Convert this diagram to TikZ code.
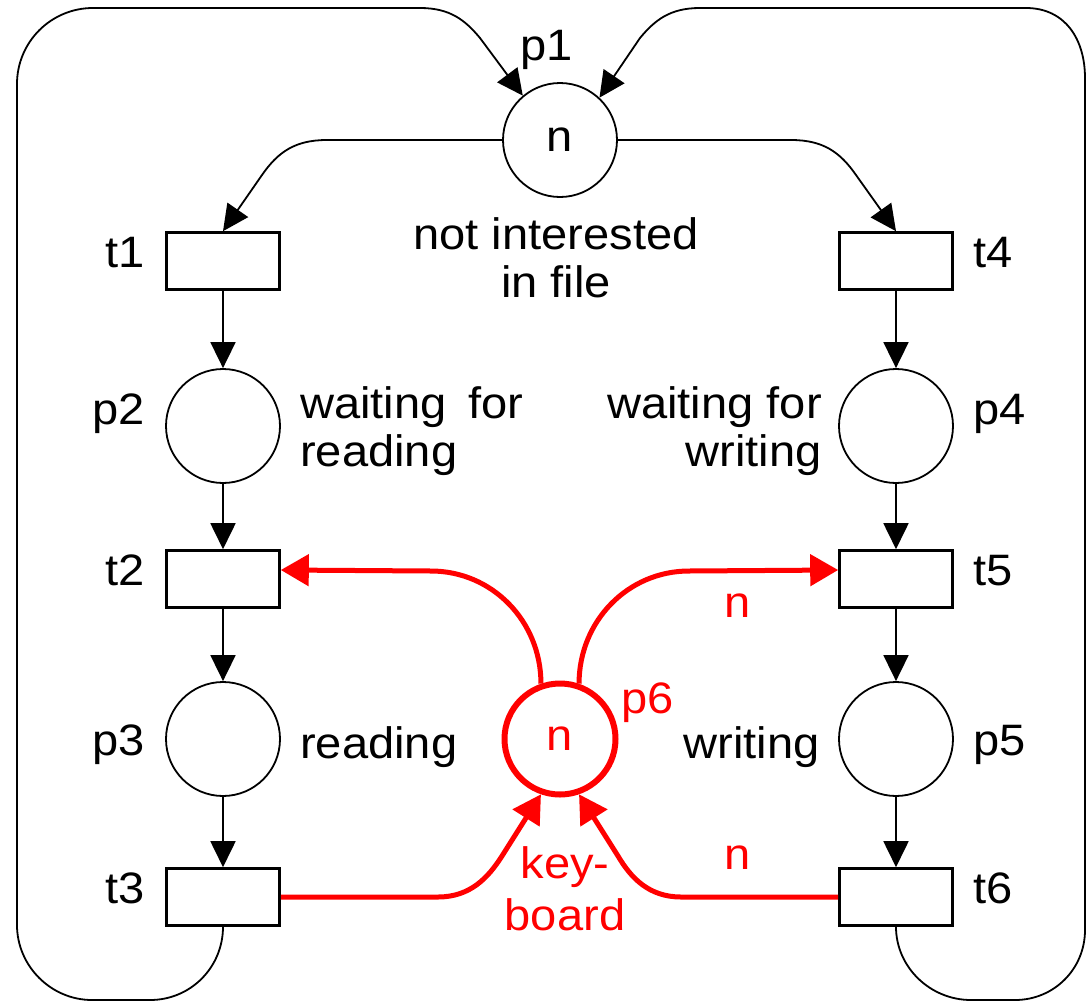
\documentclass[tikz,border=0pt]{standalone}
\usepackage{fontspec}
\setmainfont{Liberation Sans}[FakeStretch=1.07]
\usetikzlibrary{arrows.meta,calc}
\definecolor{kbred}{RGB}{255,0,0}

\begin{document}
\begin{tikzpicture}[x=1pt,y=-1pt,
  every node/.style={font=\fontsize{44}{48}\selectfont, inner sep=0pt},
  place/.style={circle,draw,line width=1.8pt,minimum size=114pt},
  kbplace/.style={circle,draw=kbred,text=kbred,line width=6pt,minimum size=111pt},
  trans/.style={rectangle,draw,line width=2.6pt,minimum width=113pt,minimum height=57pt},
  flow/.style={line width=1.8pt,-{Triangle[length=26pt,width=25pt]}},
  redflow/.style={draw=kbred,line width=5pt,-{Triangle[length=28pt,width=31pt]}},
  redtext/.style={text=kbred}
]
\useasboundingbox (0,0) rectangle (1088,1002);

% places
\node[place]   (p1) at (560,140) {\raisebox{-7pt}{n}};
\node[place]   (p2) at (223,426) {};
\node[place]   (p3) at (223,739) {};
\node[place]   (p4) at (896,426) {};
\node[place]   (p5) at (896,739) {};
\node[kbplace] (p6) at (560,739) {\raisebox{-7pt}{n}};

% transitions
\node[trans] (t1) at (223,261) {};
\node[trans] (t2) at (223,579) {};
\node[trans] (t3) at (223,897) {};
\node[trans] (t4) at (896,261) {};
\node[trans] (t5) at (896,579) {};
\node[trans] (t6) at (896,897) {};

\coordinate (t2in) at ([yshift=9pt]t2.east);
\coordinate (t5in) at ([yshift=9pt]t5.west);

% labels of places and transitions
\node[anchor=base]      (lp1) at (547,60)  {p1};
\node[anchor=base east] (lp2) at (145,424) {p2};
\node[anchor=base east] (lp3) at (145,755) {p3};
\node[anchor=base west] (lp4) at (973,424) {p4};
\node[anchor=base west] (lp5) at (973,755) {p5};
\node[anchor=base west,redtext] (lp6) at (621,713) {p6};
\node[anchor=base east] (lt1) at (145,267) {t1};
\node[anchor=base east] (lt2) at (145,585) {t2};
\node[anchor=base east] (lt3) at (145,903) {t3};
\node[anchor=base west] (lt4) at (973,267) {t4};
\node[anchor=base west] (lt5) at (973,585) {t5};
\node[anchor=base west] (lt6) at (973,903) {t6};

% descriptions (base anchor sits on the last line)
\node[anchor=base,align=center] (d1) at (556,297) {not interested\\in file};
\node[anchor=base west,align=left] (d2) at (300,466) {waiting\hspace{0.2em} for\\reading};
\node[anchor=base east,align=right] (d4) at (822,466) {waiting for\\writing};
\node[anchor=base west] (d3) at (300,758) {reading};
\node[anchor=base east] (d5) at (820,758) {writing};
\node[anchor=base,align=center,redtext,font=\fontsize{44}{52}\selectfont] (d6) at (565,930) {key-\\board};

% arc weights
\node[anchor=base,redtext] (w5) at (738,617) {n};
\node[anchor=base,redtext] (w6) at (738,869) {n};

% arcs from p1
\draw[flow] (p1.west) -- (327,140) .. controls (295,140) and (278,152) .. (262,175) -- (t1.north);
\draw[flow] (p1.east) -- (791,140) .. controls (823,140) and (840,152) .. (856,175) -- (t4.north);

% straight arcs down the two columns
\draw[flow] (t1) -- (p2);
\draw[flow] (p2) -- (t2);
\draw[flow] (t2) -- (p3);
\draw[flow] (p3) -- (t3);
\draw[flow] (t4) -- (p4);
\draw[flow] (p4) -- (t5);
\draw[flow] (t5) -- (p5);
\draw[flow] (p5) -- (t6);

% return loops back to p1
\draw[flow] (t3.south) .. controls (223,967) and (191,1000) .. (150,1000)
  -- (92,1000) .. controls (51,1000) and (17,966) .. (17,925)
  -- (17,84) .. controls (17,42) and (51,8) .. (93,8)
  -- (420,8) .. controls (450,8) and (465,20) .. (480,38) -- (p1.130);
\draw[flow] (t6.south) .. controls (896,967) and (930,1000) .. (971,1000)
  -- (1015,1000) .. controls (1054,1000) and (1085,969) .. (1085,930)
  -- (1085,78) .. controls (1085,39) and (1065,8) .. (1026,8)
  -- (700,8) .. controls (670,8) and (655,20) .. (640,38) -- (p1.47);

% keyboard place p6
\draw[redflow] (p6.109) .. controls (541,621) and (492,571) .. (431,571) -- (t2in);
\draw[redflow] (p6.71) .. controls (579,621) and (628,571) .. (689,571) -- (t5in);
\draw[redflow] (t3.east) -- (438,897) .. controls (470,897) and (488,878) .. (502,856) -- (p6.251);
\draw[redflow] (t6.west) -- (681,897) .. controls (649,897) and (631,878) .. (618,856) -- (p6.289);
\end{tikzpicture}
\end{document}
